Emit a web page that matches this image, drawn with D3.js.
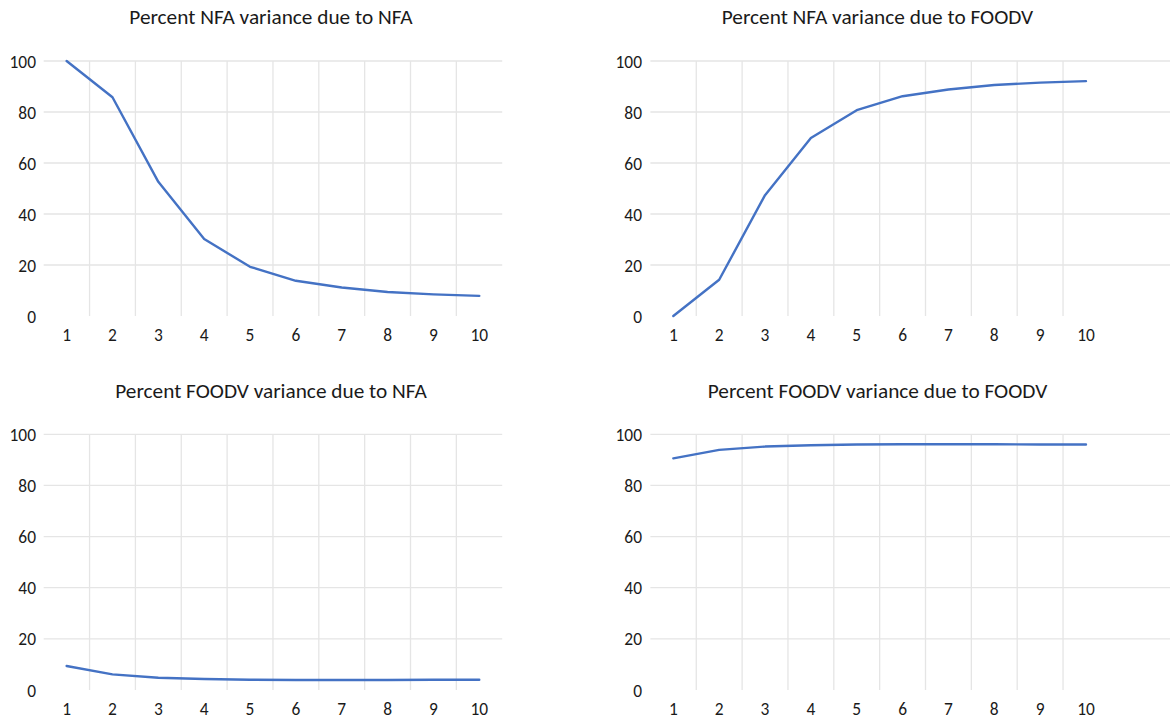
<!DOCTYPE html>
<html>
<head>
<meta charset="utf-8">
<script src="https://cdn.jsdelivr.net/npm/d3@7"></script>
<style>
  html, body { margin: 0; padding: 0; background: #fff; }
  svg { display: block; }
  text { font-family: Carlito, Lato, "Open Sans", sans-serif; fill: #1a1a1a; }
</style>
</head>
<body>
<svg id="chart" width="1170" height="720"></svg>
<script>
// ---- data ----
const categories = [1, 2, 3, 4, 5, 6, 7, 8, 9, 10];
const yTicks = [0, 20, 40, 60, 80, 100];
const titles = [
  "Percent NFA variance due to NFA",
  "Percent NFA variance due to FOODV",
  "Percent FOODV variance due to NFA",
  "Percent FOODV variance due to FOODV"
];
const nfaDueToNfa     = [100, 85.8, 52.6, 30.2, 19.3, 13.8, 11.2, 9.4, 8.5, 7.9];
const nfaDueToFoodv   = [0, 14.2, 47.4, 69.8, 80.7, 86.2, 88.8, 90.6, 91.5, 92.1];
const foodvDueToNfa   = [9.4, 6.1, 4.8, 4.3, 4.0, 3.9, 3.9, 3.9, 4.0, 4.0];
const foodvDueToFoodv = [90.6, 93.9, 95.2, 95.7, 96.0, 96.1, 96.1, 96.1, 96.0, 96.0];
const seriesList = [nfaDueToNfa, nfaDueToFoodv, foodvDueToNfa, foodvDueToFoodv];

// ---- layout (not data) ----
const layouts = [
  { x0: 43.7,  x1: 502.2,  gridRight: 502.2, yTop: 61,    yBottom: 316, titleX: 271,   titleY: 17,  labelRight: 36 },
  { x0: 650.4, x1: 1108.9, gridRight: 1170,  yTop: 61,    yBottom: 316, titleX: 877.5, titleY: 17,  labelRight: 642 },
  { x0: 43.7,  x1: 502.2,  gridRight: 502.2, yTop: 434.3, yBottom: 690, titleX: 271,   titleY: 391, labelRight: 36 },
  { x0: 650.4, x1: 1108.9, gridRight: 1170,  yTop: 434.3, yBottom: 690, titleX: 877.5, titleY: 391, labelRight: 642 }
];

const svg = d3.select("#chart");
const gridColor = "#e5e5e5";
const lineColor = "#4472C4";
const tickFont = "17.4px";

layouts.forEach((L, i) => {
  const values = seriesList[i];
  const g = svg.append("g");
  const x = d3.scaleBand().domain(categories).range([L.x0, L.x1]);
  const y = d3.scaleLinear().domain([0, 100]).range([L.yBottom, L.yTop]);

  // horizontal gridlines (no zero line)
  g.selectAll("line.h").data(yTicks.filter(t => t > 0)).join("line")
    .attr("x1", L.x0).attr("x2", L.gridRight)
    .attr("y1", d => y(d)).attr("y2", d => y(d))
    .attr("stroke", gridColor).attr("stroke-width", 1.3);

  // vertical gridlines at category boundaries
  g.selectAll("line.v").data(categories.slice(1)).join("line")
    .attr("x1", d => x(d)).attr("x2", d => x(d))
    .attr("y1", y(100)).attr("y2", y(0))
    .attr("stroke", gridColor).attr("stroke-width", 1.3);

  // y axis labels
  const yAxis = d3.axisLeft(y).tickValues(yTicks).tickSize(0).tickPadding(0);
  const ya = g.append("g").attr("transform", `translate(${L.labelRight},0)`).call(yAxis);
  ya.select(".domain").remove();
  ya.selectAll("text").style("font-size", tickFont).attr("fill", "#1a1a1a")
    .style("font-family", "Carlito, Lato, 'Open Sans', sans-serif").attr("dy", "0.35em");

  // x axis labels
  const xAxis = d3.axisBottom(x).tickSize(0).tickPadding(0);
  const xa = g.append("g").attr("transform", `translate(0,${L.yBottom + 13})`).call(xAxis);
  xa.select(".domain").remove();
  xa.selectAll("text").style("font-size", tickFont).attr("fill", "#1a1a1a")
    .style("font-family", "Carlito, Lato, 'Open Sans', sans-serif").attr("dy", "0.35em").attr("y", 6);

  // line
  const line = d3.line()
    .x((d, j) => x(categories[j]) + x.bandwidth() / 2)
    .y(d => y(d));
  g.append("path").datum(values)
    .attr("d", line)
    .attr("fill", "none")
    .attr("stroke", lineColor)
    .attr("stroke-width", 2.4)
    .attr("stroke-linejoin", "round")
    .attr("stroke-linecap", "round");

  // title
  g.append("text")
    .attr("x", L.titleX).attr("y", L.titleY)
    .attr("text-anchor", "middle").attr("dy", "0.35em")
    .style("font-size", "21.3px")
    .text(titles[i]);
});
</script>
</body>
</html>
